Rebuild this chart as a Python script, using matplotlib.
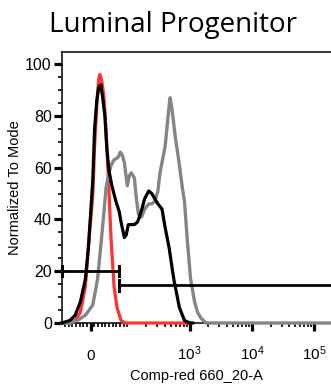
import matplotlib
matplotlib.use("Agg")
import matplotlib.pyplot as plt
from matplotlib.ticker import FixedLocator, MultipleLocator
import numpy as np

plt.rcParams['font.family'] = ['Liberation Sans', 'DejaVu Sans']
plt.rcParams['mathtext.fontset'] = 'custom'
plt.rcParams['mathtext.rm'] = 'Liberation Sans'
plt.rcParams['mathtext.it'] = 'Liberation Sans'

# histogram traces (fluorescence, % of mode)
red_x = [-78, -56, -42, -28, -14, -6, 6, 11, 17, 22, 25, 28, 31, 36, 42, 47, 50,
         56, 64, 72, 83, 94, 1000]
red_y = [0, 0, 1, 4, 14, 29, 49, 68, 84, 94, 96, 95, 93, 88, 75, 60, 51,
         32, 14, 6, 1, 0, 0]

black_x = [-78, -56, -42, -28, -14, -6, 0, 6, 11, 17, 22, 28, 33, 39, 44, 50, 58,
           69, 78, 83, 92, 97, 104, 116, 130, 146, 157, 176, 190, 221, 247, 277,
           310, 361, 404, 470, 526, 567, 636, 686, 768, 828, 1000, 1120]
black_y = [0, 1, 3, 8, 17, 29, 42, 55, 75, 86, 91, 92, 87, 80, 68, 59, 53,
           47, 43, 39, 33, 34, 38, 38, 38, 39, 41, 45, 48, 51, 50, 48,
           46, 44, 37, 29, 21, 16, 10, 6, 3, 1, 0, 0]

gray_x = [-78, -56, -36, -14, 6, 14, 19, 28, 36, 42, 47, 56, 64, 75, 81, 86, 92,
          100, 108, 116, 130, 140, 151, 170, 190, 221, 247, 277, 310, 335, 361,
          404, 436, 470, 488, 526, 589, 660, 712, 768, 828, 927, 1039, 1208,
          1352, 1514, 1830, 230000]
gray_y = [0, 0, 1, 3, 7, 13, 17, 30, 42, 52, 56, 61, 63, 64, 66, 65, 62,
          53, 57, 58, 56, 48, 42, 41, 44, 46, 46, 47, 51, 58, 62,
          68, 76, 84, 87, 82, 72, 64, 58, 52, 47, 31, 17, 8,
          4, 2, 0, 0]

# gates
gate1_x = [-78, 78]
gate1_y = 20
gate2_x = [78, 230000]
gate2_y = 14.5

xmajor = [0, 1e3, 1e4, 1e5]
xmajor_labels = ['0', '$10^3$', '$10^4$', '$10^5$']

fig = plt.figure(figsize=(3.31, 3.92), dpi=100)
ax = fig.add_axes([0.187, 0.176, 0.83, 0.691])

ax.set_xscale('symlog', linthresh=100, linscale=0.531)
ax.set_xlim(-78, 230000)
ax.set_ylim(0, 104.6)

ax.plot(red_x, red_y, color='#ff3333', lw=2.3, clip_on=False, zorder=3)
ax.plot(gray_x, gray_y, color='#858585', lw=2.4, clip_on=False, zorder=4)
ax.plot(black_x, black_y, color='black', lw=2.3, clip_on=False, zorder=5)

# gate bars
ax.plot(gate1_x, [gate1_y, gate1_y], color='black', lw=2, zorder=6, clip_on=False)
for gx in gate1_x:
    ax.plot([gx, gx], [gate1_y - 2, gate1_y + 2], color='black', lw=2.2, zorder=6, clip_on=False)
ax.plot(gate2_x, [gate2_y, gate2_y], color='black', lw=2, zorder=6, clip_on=False)
ax.plot([gate2_x[0], gate2_x[0]], [gate2_y - 2, gate2_y + 2], color='black', lw=2.2, zorder=6)

# y axis ticks
ax.yaxis.set_major_locator(MultipleLocator(20))
ax.yaxis.set_minor_locator(MultipleLocator(5))
ax.tick_params(axis='y', which='major', direction='out', length=5.8, width=2.3,
               labelsize=11.5, pad=1.5)
ax.tick_params(axis='y', which='minor', direction='out', length=2.6, width=1.2)

# x axis ticks
minor = [-70, -60, -50, -40, -30, -20, -10, 10, 20, 30, 40, 50, 60, 70, 80, 90, 100]
for dec in [100, 1000, 10000, 100000]:
    for k in range(2, 10):
        if dec * k < 230000:
            minor.append(dec * k)
ax.xaxis.set_major_locator(FixedLocator(xmajor))
ax.xaxis.set_minor_locator(FixedLocator(minor))
ax.set_xticklabels(xmajor_labels)
ax.tick_params(axis='x', which='major', direction='out', length=5.8, width=2.3,
               labelsize=11, pad=20.8)
ax.tick_params(axis='x', which='minor', direction='out', length=2.6, width=1.2)
for lab in ax.get_xticklabels():
    lab.set_verticalalignment('baseline')

for s in ['left', 'top', 'bottom']:
    ax.spines[s].set_linewidth(1.1)
ax.spines['right'].set_visible(False)

ax.set_ylabel('Normalized To Mode', fontsize=10.5, labelpad=2)
ax.set_xlabel('Comp-red 660_20-A', fontsize=10.5, labelpad=2)
ax.xaxis.set_label_coords((196.5 - 62) / (0.83 * 331), -0.17)

fig.text(0.523, 0.918, 'Luminal Progenitor', fontsize=20, family='Open Sans',
         ha='center', va='baseline')

fig.savefig('out.png', dpi=100)
